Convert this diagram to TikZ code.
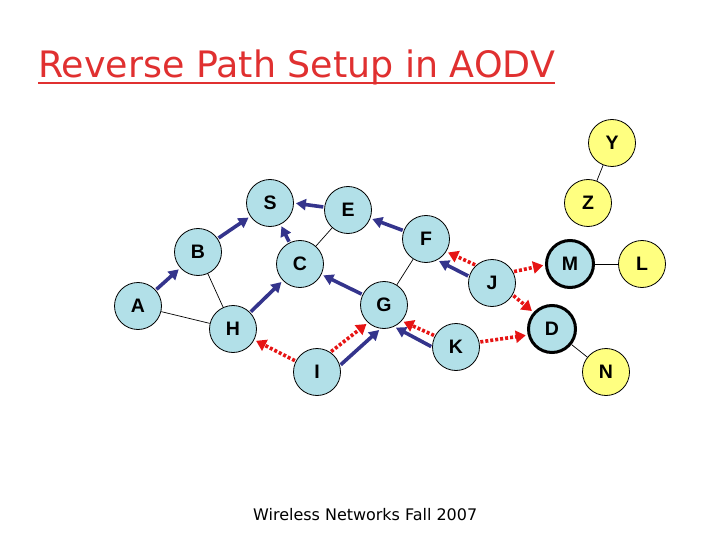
\documentclass[tikz,border=0pt]{standalone}
\usepackage{fontspec}
\setmainfont{Liberation Sans}
\newfontfamily\verd{DejaVu Sans}
\usetikzlibrary{arrows.meta}
\definecolor{nodeblue}{RGB}{178,224,232}
\definecolor{nodeyellow}{RGB}{255,255,128}
\definecolor{arrblue}{RGB}{52,52,140}
\definecolor{arrred}{RGB}{230,20,20}
\definecolor{titlered}{RGB}{224,48,48}
\tikzset{
  nd/.style={circle, draw=black, line width=0.8pt, fill=nodeblue, minimum size=47pt, inner sep=0pt,
    font=\fontsize{19.5}{19.5}\selectfont\bfseries},
  ndy/.style={nd, fill=nodeyellow},
  ndk/.style={nd, line width=3pt, minimum size=47pt},
  thin link/.style={draw=black, line width=0.7pt},
  bluearr/.style={draw=arrblue, line width=3.6pt, -{Triangle[length=10pt,width=11pt]}, shorten >=2pt, shorten <=1pt},
  redarr/.style={draw=arrred, line width=3.6pt, dash pattern=on 3pt off 2pt, -{Triangle[length=10pt,width=12pt]}, shorten >=2pt, shorten <=1pt},
}
\begin{document}
\begin{tikzpicture}[x=1pt,y=-1pt]
\useasboundingbox (0,0) rectangle (720,540);
% title
\node[anchor=base west, inner sep=0pt, text=titlered] (title) at (38,78)
  {\resizebox{517pt}{!}{\verd\fontsize{30}{30}\selectfont Reverse Path Setup in AODV}};
\draw[titlered, line width=2.2pt] (38,83) -- (555,83);
% footer
\node[anchor=base west, inner sep=0pt] (foot) at (253,520)
  {\resizebox{224pt}{!}{\verd\fontsize{13}{13}\selectfont Wireless Networks Fall 2007}};
% nodes
\node[ndy] (Y) at (612,143) {Y};
\node[ndy] (Z) at (588,203) {Z};
\node[nd] (S) at (270,203) {S};
\node[nd] (E) at (348,210) {E};
\node[nd] (F) at (426,239) {F};
\node[nd] (B) at (198,252) {B};
\node[nd] (C) at (300,264) {C};
\node[nd] (J) at (492,283) {J};
\node[ndk] (M) at (570,264) {M};
\node[ndy] (L) at (642,264) {L};
\node[nd] (A) at (138,306) {A};
\node[nd] (G) at (384,305) {G};
\node[nd] (H) at (233,329) {H};
\node[ndk] (D) at (552,329) {D};
\node[nd] (K) at (456,347) {K};
\node[nd] (I) at (317,372) {I};
\node[ndy] (N) at (606,372) {N};
% thin links
\draw[thin link] (B) -- (H);
\draw[thin link] (A) -- (H);
\draw[thin link] (C) -- (E);
\draw[thin link] (F) -- (G);
\draw[thin link] (Y) -- (Z);
\draw[thin link] (M) -- (L);
\draw[thin link] (D) -- (N);
% blue reverse-path arrows
\draw[bluearr] (A) -- (B);
\draw[bluearr] (B) -- (S);
\draw[bluearr] (E.173) -- (S.0);
\draw[bluearr] (C) -- (S);
\draw[bluearr] (H) -- (C);
\draw[bluearr] (G) -- (C);
\draw[bluearr] (F) -- (E);
\draw[bluearr] (J.164) -- (F.298);
\draw[bluearr] (I.16) -- (G.262);
\draw[bluearr] (K.180) -- (G.295);
% red broadcast arrows
\draw[redarr] (I) -- (H);
\draw[redarr] (I.56) -- (G.228);
\draw[redarr] (K.152) -- (G.318);
\draw[redarr] (J.132) -- (F.328);
\draw[redarr] (J.28) -- (M.182);
\draw[redarr] (J.330) -- (D.138);
\draw[redarr] (K.12) -- (D.194);
\end{tikzpicture}
\end{document}
